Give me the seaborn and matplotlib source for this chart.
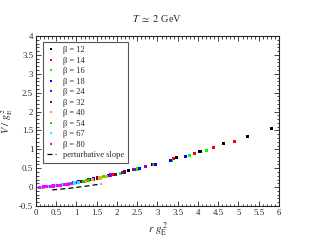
import pandas as pd
import seaborn as sns
import matplotlib.pyplot as plt
from matplotlib.ticker import MultipleLocator

# data: r g_E^2 and V / g_E^2 for each beta
betas = [12, 14, 16, 18, 24, 32, 40, 54, 67, 80]
colors = ['#000000', '#ff0000', '#00ff00', '#0000ff', '#9400d3',
          '#670748', '#ffa500', '#00e000', '#00ffff', '#ff00ff']

x_12 = [0.51, 1.09, 1.69, 2.29, 2.88, 3.47, 4.05, 4.64, 5.22, 5.82]
y_12 = [0.04, 0.14, 0.29, 0.44, 0.60, 0.78, 0.95, 1.15, 1.34, 1.55]
x_14 = [0.43, 0.92, 1.41, 1.91, 2.40, 2.90, 3.40, 3.91, 4.39, 4.90]
y_14 = [0.03, 0.11, 0.21, 0.33, 0.46, 0.59, 0.75, 0.90, 1.04, 1.20]
x_16 = [0.38, 0.81, 1.24, 1.66, 2.09, 2.51, 2.93, 3.35, 3.78, 4.21]
y_16 = [0.02, 0.09, 0.17, 0.27, 0.37, 0.48, 0.59, 0.71, 0.84, 0.97]
x_18 = [0.28, 0.66, 1.04, 1.42, 1.80, 2.18, 2.56, 2.94, 3.32, 3.70]
y_18 = [0.01, 0.07, 0.14, 0.22, 0.31, 0.40, 0.49, 0.59, 0.70, 0.82]
x_24 = [0.11, 0.40, 0.69, 0.98, 1.27, 1.56, 1.85, 2.14, 2.42, 2.71]
y_24 = [0.00, 0.03, 0.07, 0.12, 0.18, 0.25, 0.32, 0.39, 0.46, 0.55]
x_32 = [0.22, 0.44, 0.66, 0.88, 1.09, 1.31, 1.53, 1.75, 1.97, 2.19]
y_32 = [0.01, 0.03, 0.06, 0.10, 0.14, 0.19, 0.24, 0.29, 0.34, 0.40]
x_40 = [0.18, 0.35, 0.53, 0.70, 0.88, 1.05, 1.23, 1.40, 1.58, 1.75]
y_40 = [0.00, 0.02, 0.04, 0.07, 0.10, 0.13, 0.16, 0.20, 0.24, 0.28]
x_54 = [0.13, 0.26, 0.39, 0.52, 0.65, 0.78, 0.91, 1.04, 1.17, 1.30]
y_54 = [0.00, 0.01, 0.02, 0.04, 0.06, 0.08, 0.10, 0.12, 0.15, 0.18]
x_67 = [0.10, 0.21, 0.31, 0.42, 0.52, 0.63, 0.73, 0.84, 0.94, 1.04]
y_67 = [0.00, 0.01, 0.02, 0.03, 0.04, 0.06, 0.07, 0.09, 0.11, 0.13]
x_80 = [0.09, 0.18, 0.26, 0.35, 0.44, 0.53, 0.61, 0.70, 0.79, 0.88]
y_80 = [0.00, 0.005, 0.01, 0.02, 0.03, 0.04, 0.05, 0.065, 0.08, 0.095]

pert_x = [0.40, 0.80, 1.20, 1.62]
pert_y = [-0.075, -0.035, 0.02, 0.085]

xs = [x_12, x_14, x_16, x_18, x_24, x_32, x_40, x_54, x_67, x_80]
ys = [y_12, y_14, y_16, y_18, y_24, y_32, y_40, y_54, y_67, y_80]

rows = []
for b, xx, yy in zip(betas, xs, ys):
    for a, v in zip(xx, yy):
        rows.append({'beta': 'β = %d' % b, 'r': a, 'V': v})
df = pd.DataFrame(rows)
labels = ['β = %d' % b for b in betas]

sns.set_style("ticks")
plt.rcParams['font.family'] = ['Liberation Serif', 'DejaVu Serif']
plt.rcParams['mathtext.fontset'] = 'stix'

fig = plt.figure(figsize=(3.14, 2.42), dpi=100)
ax = fig.add_axes([0.1146, 0.1488, 0.7739, 0.7024])

sns.scatterplot(data=df, x='r', y='V', hue='beta', hue_order=labels,
                palette=colors, marker='s', s=5, linewidth=0, ax=ax)
sns.lineplot(x=pert_x, y=pert_y, color='black', linestyle=(0, (4, 2.5)),
             linewidth=0.9, label='perturbative slope', ax=ax)

ax.set_xlim(0, 6)
ax.set_ylim(-0.5, 4)
ax.xaxis.set_major_locator(MultipleLocator(0.5))
ax.xaxis.set_minor_locator(MultipleLocator(0.1))
ax.yaxis.set_major_locator(MultipleLocator(0.5))
ax.yaxis.set_minor_locator(MultipleLocator(0.1))
ax.xaxis.set_major_formatter(plt.FuncFormatter(lambda v, p: '%g' % v))
ax.yaxis.set_major_formatter(plt.FuncFormatter(lambda v, p: '%g' % v))
ax.tick_params(which='both', direction='in', top=True, right=True,
               labelsize=6.3, width=0.6, pad=2)
ax.tick_params(which='major', length=3.6)
ax.tick_params(which='minor', length=1.8)
for sp in ax.spines.values():
    sp.set_linewidth(0.8)

ax.set_xlabel(r'$r\ g_{\mathrm{E}}^{\,2}$', fontsize=8)
ax.set_ylabel(r'$V\ /\ g_{\mathrm{E}}^{\,2}$', fontsize=7.5)
ax.xaxis.set_label_coords(0.5, -0.085)
ax.yaxis.set_label_coords(-0.088, 0.5)
ax.set_title(r'$T\ \simeq\ 2$ GeV', fontsize=7.5, pad=10)

leg = ax.legend(loc='upper left', bbox_to_anchor=(0.029, 0.962),
                borderaxespad=0, fontsize=6, frameon=True, fancybox=False,
                edgecolor='#555555', framealpha=1, handlelength=1.1,
                handletextpad=0.9, labelspacing=0.3, borderpad=0.45,
                markerscale=0.85)
leg.get_frame().set_linewidth(0.8)

fig.savefig('out.png', dpi=100)
